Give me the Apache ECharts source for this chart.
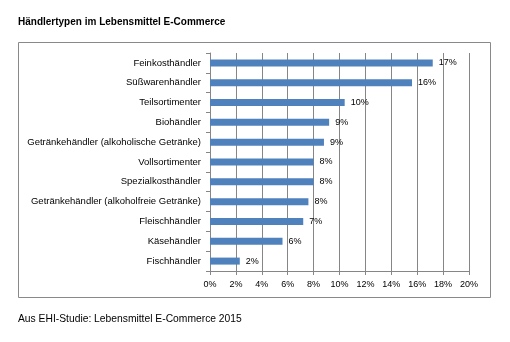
<!DOCTYPE html>
<html><head><meta charset="utf-8">
<script src="https://cdn.jsdelivr.net/npm/echarts@6/dist/echarts.min.js"></script>
<style>html,body{margin:0;padding:0;background:#fff}#c{width:510px;height:342px}</style>
</head><body><div id="c"></div>
<script>
const categories = ["Feinkosthändler","Süßwarenhändler","Teilsortimenter","Biohändler","Getränkehändler (alkoholische Getränke)","Vollsortimenter","Spezialkosthändler","Getränkehändler (alkoholfreie Getränke)","Fleischhändler","Käsehändler","Fischhändler"];
const values = [17.2, 15.6, 10.4, 9.2, 8.8, 8.0, 8.0, 7.6, 7.2, 5.6, 2.3];
const valueTicks = [0,2,4,6,8,10,12,14,16,18,20];
const titleText = "Händlertypen im Lebensmittel E-Commerce";
const sourceText = "Aus EHI-Studie: Lebensmittel E-Commerce 2015";

const chart = echarts.init(document.getElementById('c'), null, {renderer:'canvas'});
const font = "'Liberation Sans', Arial, sans-serif";
chart.setOption({
  animation:false,
  textStyle:{fontFamily:font},
  title:{text:titleText,left:18,top:17,padding:0,textStyle:{fontSize:10,fontWeight:'bold',color:'#000',fontFamily:font}},
  graphic:[
    {type:'rect',shape:{x:18.5,y:42.5,width:472,height:255},style:{fill:'none',stroke:'#898989',lineWidth:1},silent:true},
    {type:'text',left:18,top:314,style:{text:sourceText,fontSize:10.3,fill:'#000',fontFamily:font}}
  ],
  grid:{left:210,top:53,width:259,height:218,containLabel:false},
  xAxis:{type:'value',min:valueTicks[0],max:valueTicks[valueTicks.length-1],interval:2,
    axisLine:{show:true,lineStyle:{color:'#868686'}},
    axisTick:{show:true,length:4,lineStyle:{color:'#868686'}},
    splitLine:{show:true,lineStyle:{color:'#868686',width:1}},
    axisLabel:{formatter:v=>v+'%',fontSize:9,color:'#000',margin:9,fontFamily:font}},
  yAxis:{type:'category',data:categories,inverse:true,
    axisLine:{show:true,lineStyle:{color:'#868686'}},
    axisTick:{show:true,length:4,lineStyle:{color:'#868686'}},
    axisLabel:{fontSize:9.5,color:'#000',margin:9,fontFamily:font}},
  series:[{type:'bar',data:values,barWidth:7,itemStyle:{color:'#4F81BD'},
    label:{show:true,position:'right',distance:6,fontSize:9,color:'#000',fontFamily:font,
      formatter:p=>Math.round(p.value)+'%'}}]
});
</script></body></html>
